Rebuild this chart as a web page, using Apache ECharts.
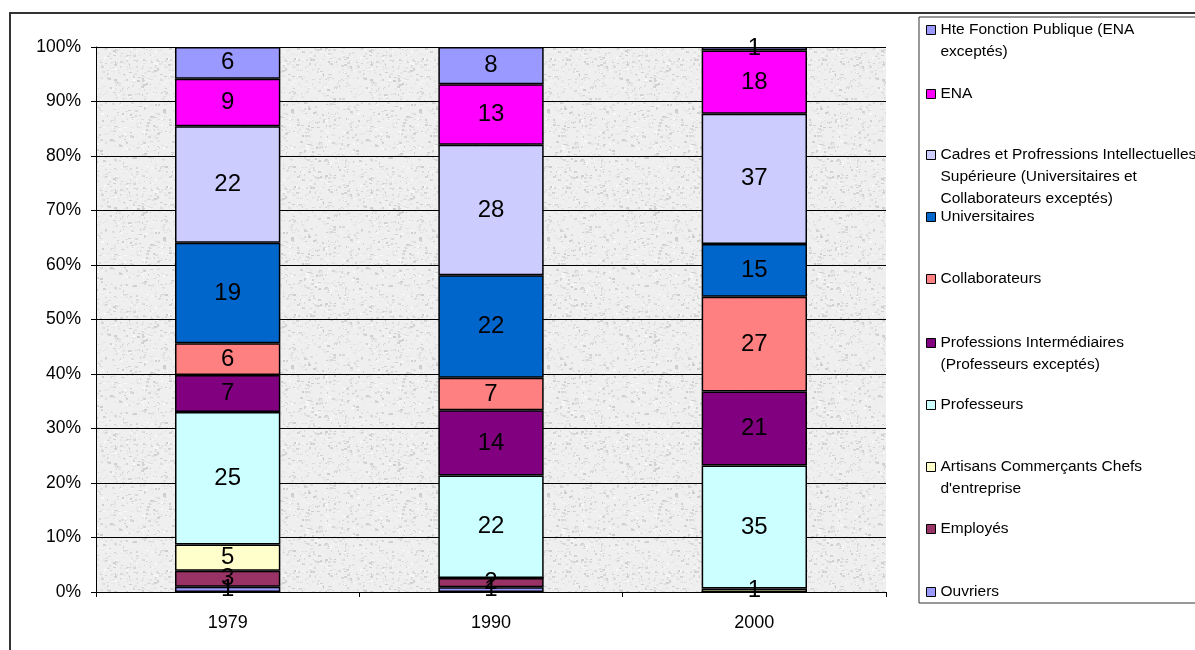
<!DOCTYPE html>
<html>
<head>
<meta charset="utf-8">
<script src="https://cdn.jsdelivr.net/npm/echarts@6/dist/echarts.min.js"></script>
<style>
	html, body { margin: 0; padding: 0; background: #fff; }
	#chart { width: 1195px; height: 650px; }
</style>
</head>
<body>
<div id="chart"></div>
<script>
// categories and series (bottom of stack first), values as labelled on the bars
var years = [ "1979", "1990", "2000" ];
var names = [ "Ouvriers", "Employés", "Artisans Commerçants Chefs\nd'entreprise",
	"Professeurs", "Professions Intermédiaires\n(Professeurs exceptés)", "Collaborateurs",
	"Universitaires",
	"Cadres et Profressions Intellectuelles\nSupérieure (Universitaires et\nCollaborateurs exceptés)",
	"ENA", "Hte Fonction Publique (ENA\nexceptés)" ];
var ouvriers = [ 1, 1, 0 ];
var employes = [ 3, 2, 0 ];
var artisans = [ 5, 0, 1 ];
var professeurs = [ 25, 22, 35 ];
var profInter = [ 7, 14, 21 ];
var collaborateurs = [ 6, 7, 27 ];
var universitaires = [ 19, 22, 15 ];
var cadres = [ 22, 28, 37 ];
var ena = [ 9, 13, 18 ];
var hteFP = [ 6, 8, 1 ];
var yTicks = [ 0, 10, 20, 30, 40, 50, 60, 70, 80, 90, 100 ];

var raw = [ ouvriers, employes, artisans, professeurs, profInter, collaborateurs,
	universitaires, cadres, ena, hteFP ];
var colors = [ '#9999FF', '#993366', '#FFFFCC', '#CCFFFF', '#800080', '#FF8080',
	'#0066CC', '#CCCCFF', '#FF00FF', '#9999FF' ];
// legend icon centre (y) for each series, same order as names
var legendY = [ 592, 529, 467, 405, 343, 279, 217, 155, 94, 30 ];

var totals = years.map(function(y, j) {
	var s = 0;
	raw.forEach(function(r) { s += r[j]; });
	return s;
});

// light grey granite texture like the plot area
var makeTexture = function() {
	var c = document.createElement('canvas');
	c.width = 128; c.height = 128;
	var ctx = c.getContext('2d');
	ctx.fillStyle = '#efefef';
	ctx.fillRect(0, 0, 128, 128);
	var seed = 11;
	var next = function() {
		seed = (seed * 16807) % 2147483647;
		return seed / 2147483647;
	};
	for (var i = 0; i < 1400; i++) {
		var g = 205 + Math.floor(next() * 45);
		ctx.fillStyle = 'rgb(' + g + ',' + g + ',' + g + ')';
		ctx.fillRect(Math.floor(next() * 128), Math.floor(next() * 128), 1 + Math.floor(next() * 3), 1 + Math.floor(next() * 2));
	}
	return c;
};

var series = raw.map(function(r, i) {
	return {
		name : names[i],
		type : 'bar',
		stack : 'total',
		barWidth : '40%',
		data : r.map(function(v, j) { return v / totals[j] * 100; }),
		itemStyle : {
			color : colors[i],
			borderColor : '#000',
			borderWidth : 1.5
		},
		label : {
			show : true,
			position : 'inside',
			color : '#000',
			fontSize : 24,
			fontFamily : 'Liberation Sans',
			formatter : function(p) {
				var v = r[p.dataIndex];
				return v ? String(v) : '';
			}
		}
	};
});

var legends = names.map(function(n, i) {
	var lines = n.split('\n');
	var pad = [];
	for (var k = 1; k < lines.length; k++) pad.push(' ');
	var text = pad.concat(lines).join('\n');
	var h = (2 * lines.length - 1) * 22;
	return {
		data : [ n ],
		left : 926,
		top : legendY[i] - h / 2,
		padding : 0,
		icon : 'rect',
		itemWidth : 9,
		itemHeight : 9,
		itemGap : 5,
		selectedMode : false,
		formatter : function() { return text; },
		itemStyle : { borderColor : '#000', borderWidth : 1 },
		textStyle : {
			fontFamily : 'Liberation Sans',
			fontSize : 15.5,
			color : '#000',
			lineHeight : 22
		}
	};
});

var chart = echarts.init(document.getElementById('chart'));
var option = {
	animation : false,
	backgroundColor : '#fff',
	graphic : [ {
		type : 'rect',
		shape : { x : 10, y : 13, width : 1300, height : 800 },
		style : { fill : 'none', stroke : '#333', lineWidth : 2 },
		z : -10
	}, {
		type : 'rect',
		shape : { x : 919, y : 17, width : 400, height : 586 },
		style : { fill : '#fff', stroke : '#333', lineWidth : 1 },
		z : -5
	} ],
	grid : {
		left : 96,
		right : 309,
		top : 47,
		bottom : 58,
		show : true,
		borderWidth : 0,
		backgroundColor : { image : makeTexture(), repeat : 'repeat' }
	},
	legend : legends,
	xAxis : {
		type : 'category',
		data : years,
		axisLine : { lineStyle : { color : '#000', width : 1 } },
		axisTick : { show : true, length : 5, lineStyle : { color : '#000' } },
		axisLabel : {
			color : '#000',
			fontSize : 18,
			fontFamily : 'Liberation Sans',
			margin : 22
		}
	},
	yAxis : {
		type : 'value',
		min : yTicks[0],
		max : yTicks[yTicks.length - 1],
		interval : 10,
		axisLine : { show : true, lineStyle : { color : '#000', width : 1 } },
		axisTick : { show : true, length : 5, lineStyle : { color : '#000' } },
		splitLine : { lineStyle : { color : '#000', width : 1 } },
		axisLabel : {
			color : '#000',
			fontSize : 17.5,
			fontFamily : 'Liberation Sans',
			margin : 15,
			formatter : '{value}%'
		}
	},
	series : series
};
chart.setOption(option);
</script>
</body>
</html>
